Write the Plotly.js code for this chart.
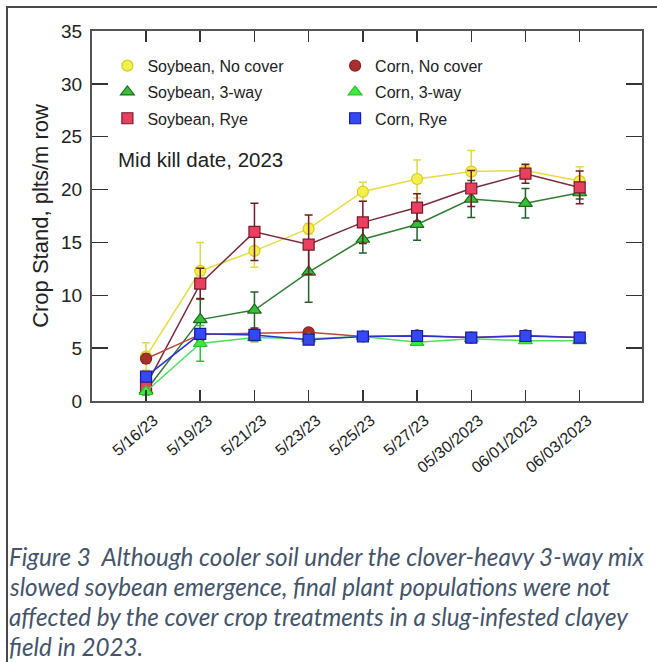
<!DOCTYPE html>
<html>
<head>
<meta charset="utf-8">
<script src="https://cdn.plot.ly/plotly-3.0.1.min.js"></script>
<style>
html,body{margin:0;padding:0;background:#fff;}
#wrap{position:relative;width:657px;height:662px;overflow:hidden;}
#chart{position:absolute;left:0;top:0;width:657px;height:662px;}
#frame{position:absolute;left:6px;top:6px;width:700px;height:700px;border-top:2px solid #4a4a4a;border-left:2px solid #4a4a4a;pointer-events:none;}
</style>
</head>
<body>
<div id="wrap"><div id="chart"></div><div id="frame"></div></div>
<script>
const dates = ["5/16/23","5/19/23","5/21/23","5/23/23","5/25/23","5/27/23","05/30/2023","06/01/2023","06/03/2023"];

const soyNoCover    = [4.2, 12.3, 14.2, 16.3, 19.8, 21.0, 21.7, 21.8, 20.8];
const soyNoCoverErr = [1.3, 2.7, 1.55, 0.5, 0.9, 1.8, 2.0, 0.5, 1.35];
const soy3way       = [1.0, 7.7, 8.6, 12.2, 15.3, 16.7, 19.1, 18.7, 19.7];
const soy3wayErr    = [0.4, 2.0, 1.7, 2.85, 1.3, 1.5, 1.75, 1.4, 0.6];
const soyRye        = [1.45, 11.1, 16.0, 14.8, 16.9, 18.3, 20.1, 21.5, 20.2];
const soyRyeErr     = [0.5, 1.45, 2.7, 2.8, 2.0, 1.3, 1.7, 0.9, 1.55];
const cornNoCover    = [4.0, 6.3, 6.4, 6.5, 6.1, 6.2, 6.0, 6.2, 6.0];
const cornNoCoverErr = [0.4, 0.3, 0.3, 0.2, 0.2, 0.2, 0.2, 0.2, 0.2];
const corn3way       = [0.9, 5.45, 6.0, 5.9, 6.1, 5.55, 5.9, 5.7, 5.7];
const corn3wayErr    = [0.3, 1.7, 0.4, 0.3, 0.2, 0.2, 0.2, 0.2, 0.2];
const cornRye        = [2.3, 6.35, 6.25, 5.8, 6.1, 6.15, 6.0, 6.15, 6.0];
const cornRyeErr     = [0.3, 0.3, 0.3, 0.2, 0.2, 0.2, 0.2, 0.2, 0.2];

const captionLines = [
  "Figure 3  Although cooler soil under the clover-heavy 3-way mix",
  "slowed soybean emergence, final plant populations were not",
  "affected by the cover crop treatments in a slug-infested clayey",
  "field in 2023."
];

const series = [
  {name: "Soybean, No cover", y: soyNoCover, err: soyNoCoverErr, symbol: "circle", fill: "#f4f04a", outline: "#d4cc20", line: "#e4dc40", errc: "#e0d848", legend: "legend"},
  {name: "Soybean, 3-way", y: soy3way, err: soy3wayErr, symbol: "triangle-up", fill: "#36c036", outline: "#1d6a1d", line: "#2e7d32", errc: "#22622a", legend: "legend"},
  {name: "Soybean, Rye", y: soyRye, err: soyRyeErr, symbol: "square", fill: "#e8405e", outline: "#7a1a2c", line: "#7a2a3a", errc: "#701c2a", legend: "legend"},
  {name: "Corn, No cover", y: cornNoCover, err: cornNoCoverErr, symbol: "circle", fill: "#a8302a", outline: "#8a2420", line: "#b84a3a", errc: "#8a2a22", legend: "legend2"},
  {name: "Corn, 3-way", y: corn3way, err: corn3wayErr, symbol: "triangle-up", fill: "#3cec3c", outline: "#30c030", line: "#4ede5e", errc: "#30c040", legend: "legend2"},
  {name: "Corn, Rye", y: cornRye, err: cornRyeErr, symbol: "square", fill: "#3548f8", outline: "#1c1c9c", line: "#3030d0", errc: "#2020a0", legend: "legend2"}
];

const data = [];
series.forEach((s, i) => {
  data.push({
    type: "scatter", mode: "lines", x: dates, y: s.y, showlegend: false, hoverinfo: "skip",
    legend: s.legend, legendgroup: "g" + i,
    line: {color: s.line, width: 1.5}
  });
  data.push({
    type: "scatter", mode: "markers", name: s.name, x: dates, y: s.y,
    legend: s.legend, legendgroup: "g" + i,
    marker: {symbol: s.symbol, size: s.symbol === "triangle-up" ? 12 : 11, color: s.fill, line: {color: s.outline, width: 1.2}},
    error_y: {type: "data", array: s.err, visible: true, color: s.errc, thickness: 1.5, width: 4}
  });
});

const annotations = [{
  xref: "paper", yref: "paper", x: 0.043, y: 0.653, xanchor: "left", yanchor: "middle",
  text: "Mid kill date, 2023", showarrow: false,
  font: {family: "Liberation Sans, Arial, sans-serif", size: 20.5, color: "#222"}
}];
const capTop = 556, capGap = 30.3;
captionLines.forEach((t, i) => {
  const ypx = capTop + i * capGap;
  annotations.push({
    xref: "paper", yref: "paper",
    x: (7 - 92) / 549.7, y: 1 - (ypx - 31) / 370,
    xanchor: "left", yanchor: "middle", showarrow: false, text: "<i>" + t + "</i>",
    font: {family: "Lato, Open Sans, sans-serif", size: 24.2, color: "#44546A"}
  });
});

const layout = {
  width: 657, height: 662,
  margin: {l: 92, r: 15, t: 31, b: 261},
  paper_bgcolor: "rgba(0,0,0,0)", plot_bgcolor: "#fff",
  showlegend: true,
  font: {family: "Liberation Sans, Arial, sans-serif", color: "#222"},
  xaxis: {
    type: "category", categoryorder: "array", categoryarray: dates,
    range: [-0.997, 9.15], showgrid: false, zeroline: false,
    showline: true, linecolor: "#555", linewidth: 2, mirror: "ticks",
    ticks: "inside", ticklen: 11, tickwidth: 1.5, tickcolor: "#333",
    tickangle: -40, tickfont: {family: "Liberation Sans, Arial, sans-serif", size: 16, color: "#222"},
    ticklabelshift: 8, ticklabelstandoff: 2
  },
  yaxis: {
    range: [0, 35], dtick: 5, showgrid: false, zeroline: false,
    showline: true, linecolor: "#555", linewidth: 2, mirror: "ticks",
    ticks: "inside", ticklen: 16, tickwidth: 1.5, tickcolor: "#333",
    tickfont: {size: 19, color: "#222"}, ticklabelstandoff: 4,
    title: {text: "Crop Stand, plts/m row", font: {size: 22, color: "#222"}, standoff: 6}
  },
  legend: {
    x: 0.028, y: 0.952, xanchor: "left", yanchor: "top", bgcolor: "rgba(0,0,0,0)",
    font: {size: 16, color: "#222"}, tracegroupgap: 2.5, traceorder: "grouped", borderwidth: 0
  },
  legend2: {
    x: 0.442, y: 0.952, xanchor: "left", yanchor: "top", bgcolor: "rgba(0,0,0,0)",
    font: {size: 16, color: "#222"}, tracegroupgap: 2.5, traceorder: "grouped", borderwidth: 0
  },
  annotations: annotations
};

Plotly.newPlot("chart", data, layout, {displayModeBar: false, staticPlot: true});
</script>
</body>
</html>
